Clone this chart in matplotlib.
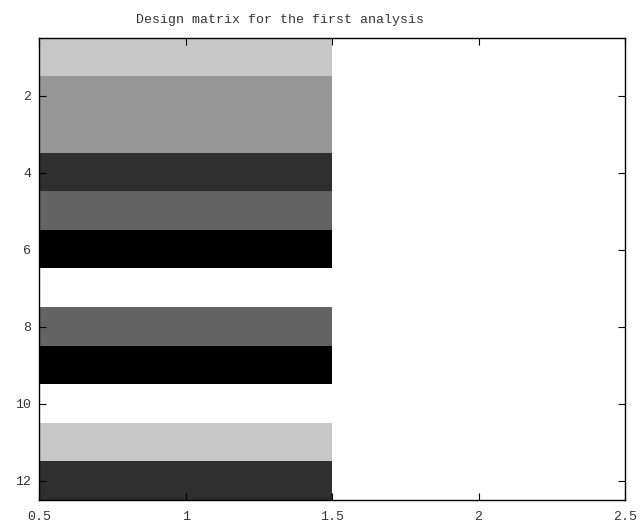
import numpy as np
import matplotlib
matplotlib.use("Agg")
import matplotlib.pyplot as plt

# Design matrix: one regressor column, twelve scans (gray level per scan)
scans = np.arange(1, 13)
regressor = [0.78, 0.59, 0.59, 0.18, 0.39, 0.0, 1.0, 0.39, 0.0, 1.0, 0.78, 0.18]
x_ticks = [0.5, 1, 1.5, 2, 2.5]
x_tick_labels = ["0.5", "1", "1.5", "2", "2.5"]
y_ticks = [2, 4, 6, 8, 10, 12]

plt.rcParams['font.family'] = ['Liberation Mono', 'DejaVu Sans Mono']

fig = plt.figure(figsize=(6.43, 5.26), dpi=100)
ax = fig.add_axes([0.0607, 0.0494, 0.9113, 0.8784])

mat = np.array(regressor).reshape(-1, 1)
ax.imshow(mat, cmap='gray', vmin=0, vmax=1, aspect='auto',
          interpolation='nearest',
          extent=(0.5, 1.5, scans[-1] + 0.5, scans[0] - 0.5))
ax.set_xlim(0.5, 2.5)
ax.set_ylim(12.5, 0.5)

ax.set_xticks(x_ticks)
ax.set_xticklabels(x_tick_labels)
ax.set_yticks(y_ticks)
ax.tick_params(direction='in', length=5, width=0.8, top=True, right=True,
               labelsize=9.5, labelcolor='#333333')
ax.tick_params(axis='x', pad=8)
ax.tick_params(axis='y', pad=5.5)
for s in ax.spines.values():
    s.set_linewidth(1.0)

fig.text(280 / 643, 1 - 20 / 526, "Design matrix for the first analysis",
         fontsize=9.5, color='#333333', ha='center', va='center')

fig.savefig("out.png", dpi=100)
